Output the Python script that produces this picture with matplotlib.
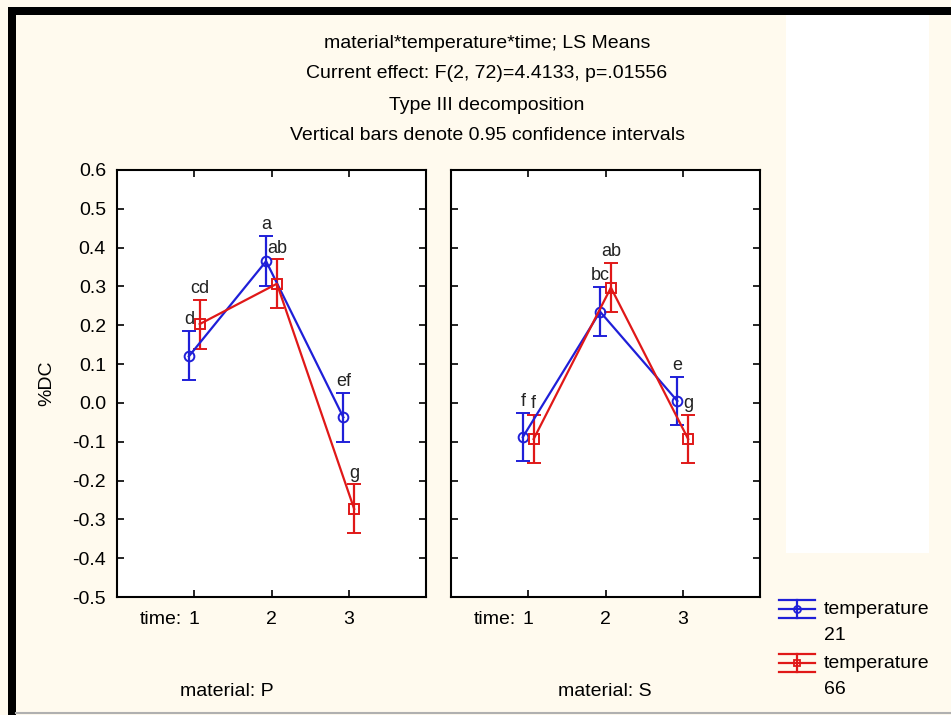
import matplotlib
matplotlib.use("Agg")
import matplotlib.pyplot as plt
from matplotlib.patches import Rectangle
from matplotlib.lines import Line2D

plt.rcParams['font.family'] = ['Liberation Sans', 'DejaVu Sans']

# LS means and 0.95 CI for %DC
times = [1, 2, 3]
time_labels = ["1", "2", "3"]

p_t21 = [0.120, 0.365, -0.037]
p_t21_lo = [0.058, 0.300, -0.100]
p_t21_hi = [0.185, 0.430, 0.025]
p_t66 = [0.203, 0.307, -0.273]
p_t66_lo = [0.140, 0.245, -0.335]
p_t66_hi = [0.265, 0.370, -0.210]

s_t21 = [-0.088, 0.235, 0.005]
s_t21_lo = [-0.150, 0.173, -0.057]
s_t21_hi = [-0.025, 0.298, 0.068]
s_t66 = [-0.093, 0.297, -0.093]
s_t66_lo = [-0.155, 0.235, -0.155]
s_t66_hi = [-0.030, 0.360, -0.030]

p_t21_letters = ["d", "a", "ef"]
p_t66_letters = ["cd", "ab", "g"]
s_t21_letters = ["f", "bc", "e"]
s_t66_letters = ["f", "ab", "g"]

yticks = [0.6, 0.5, 0.4, 0.3, 0.2, 0.1, 0.0, -0.1, -0.2, -0.3, -0.4, -0.5]

title_lines = ["material*temperature*time; LS Means",
               "Current effect: F(2, 72)=4.4133, p=.01556",
               "Type III decomposition",
               "Vertical bars denote 0.95 confidence intervals"]

legend_names = ["temperature", "temperature"]
legend_values = ["21", "66"]

cream = "#fffaee"
W, H = 951, 715
fs = 14
fig = plt.figure(figsize=(W / 100, H / 100), dpi=100, facecolor=cream)


def fx(px):
    return px / W


def fy(py):
    return 1 - py / H


# frame decorations (white box on the right, black border, grey bottom line)
fig.patches.append(Rectangle((fx(786), fy(553)), fx(929) - fx(786), fy(15) - fy(553),
                             transform=fig.transFigure, facecolor="white", edgecolor="none"))
fig.patches.append(Rectangle((fx(8), fy(15)), 1 - fx(8), fy(7) - fy(15),
                             transform=fig.transFigure, facecolor="black", edgecolor="none"))
fig.patches.append(Rectangle((fx(8), 0), fx(16) - fx(8), fy(7),
                             transform=fig.transFigure, facecolor="black", edgecolor="none"))
fig.lines.append(Line2D([fx(16), 1], [fy(713), fy(713)], transform=fig.transFigure,
                        color="#b0b0b0", lw=1.5))

ax_p = fig.add_axes([fx(117), fy(597), fx(426) - fx(117), fy(170) - fy(597)])
ax_s = fig.add_axes([fx(451), fy(597), fx(760) - fx(451), fy(170) - fy(597)])

blue = "#1f1fd8"
red = "#e01818"
dx = 0.07


def draw(ax, mean, lo, hi, letters, color, marker, shift):
    xs = [t + shift for t in times]
    err = [[m - l for m, l in zip(mean, lo)], [h - m for m, h in zip(mean, hi)]]
    ax.errorbar(xs, mean, yerr=err, color=color, lw=1.6, marker=marker, ms=7,
                mfc="none", mec=color, mew=1.4, capsize=5, capthick=1.6, elinewidth=1.6)
    for x, top, lab in zip(xs, hi, letters):
        ax.annotate(lab, (x, top), xytext=(0, 2), textcoords="offset points",
                    ha="center", va="bottom", fontsize=13, color="#222222")


draw(ax_p, p_t21, p_t21_lo, p_t21_hi, p_t21_letters, blue, "o", -dx)
draw(ax_p, p_t66, p_t66_lo, p_t66_hi, p_t66_letters, red, "s", dx)
draw(ax_s, s_t21, s_t21_lo, s_t21_hi, s_t21_letters, blue, "o", -dx)
draw(ax_s, s_t66, s_t66_lo, s_t66_hi, s_t66_letters, red, "s", dx)

for ax in (ax_p, ax_s):
    ax.set_facecolor("white")
    ax.set_xlim(0, 4)
    ax.set_ylim(-0.5, 0.6)
    ax.set_yticks(yticks)
    ax.set_xticks(times)
    ax.set_xticklabels(time_labels)
    ax.tick_params(direction="in", top=True, right=True, length=5, width=1.2, pad=10,
                   labelsize=fs, colors="black")
    for sp in ax.spines.values():
        sp.set_linewidth(1.5)
    ax.annotate("time:", (1, -0.5), xytext=(-9, -10), textcoords="offset points",
                ha="right", va="top", fontsize=fs)

ax_p.set_yticklabels([f"{v:.1f}" for v in yticks])
ax_s.set_yticklabels([])
ax_p.tick_params(axis="y", pad=8)
ax_p.set_ylabel("%DC", fontsize=fs, labelpad=12)

for i, line in enumerate(title_lines):
    fig.text(fx(487), fy(43 + 31 * i), line, ha="center", va="center", fontsize=fs)

fig.text(fx(227), fy(692), "material: P", ha="center", va="center", fontsize=fs)
fig.text(fx(605), fy(692), "material: S", ha="center", va="center", fontsize=fs)

# legend drawn by hand: STATISTICA style symbol with wide caps
for i, (name, val, color, marker) in enumerate(zip(legend_names, legend_values,
                                                   [blue, red], ["o", "s"])):
    y0 = 609 + 54 * i
    for yy in (y0 - 9, y0, y0 + 9):
        fig.lines.append(Line2D([fx(779), fx(815)], [fy(yy), fy(yy)],
                                transform=fig.transFigure, color=color, lw=1.6))
    fig.lines.append(Line2D([fx(797), fx(797)], [fy(y0 - 9), fy(y0 + 9)],
                            transform=fig.transFigure, color=color, lw=1.6))
    fig.lines.append(Line2D([fx(797)], [fy(y0)], transform=fig.transFigure, color=color,
                            marker=marker, ms=5, mfc="none", mec=color, mew=1.3))
    fig.text(fx(824), fy(y0), name, ha="left", va="center", fontsize=fs)
    fig.text(fx(824), fy(y0 + 27), val, ha="left", va="center", fontsize=fs)

fig.savefig("out.png", dpi=100, facecolor=cream)
